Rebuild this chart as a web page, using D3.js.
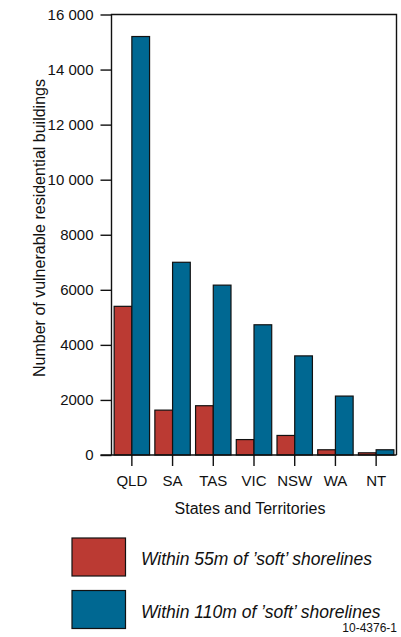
<!DOCTYPE html>
<html><head><meta charset="utf-8">
<script src="https://cdn.jsdelivr.net/npm/d3@7"></script>
<style>body{margin:0;background:#fff}svg{display:block;font-family:"Liberation Sans",Arial,sans-serif}</style>
</head><body>
<script>
const categories = ["QLD","SA","TAS","VIC","NSW","WA","NT"];
const within55 = [5400,1630,1790,560,710,190,80];
const within110 = [15200,7000,6170,4730,3600,2140,190];
const yTicks = [0,2000,4000,6000,8000,10000,12000,14000,16000];
const seriesNames = ["Within 55m of \u2019soft\u2019 shorelines","Within 110m of \u2019soft\u2019 shorelines"];
const seriesColors = ["#bb3a33","#006892"];

const W=401,H=637;
const svg=d3.select("body").append("svg").attr("width",W).attr("height",H);
const L=111.5,R=396.5,T=14.5,B=455;
const x=d3.scaleBand().domain(categories).range([L,R]).paddingInner(0.13).paddingOuter(0.065);
const y=d3.scaleLinear().domain([0,16000]).range([B,T]);

// bars
const bw=x.bandwidth()/2;
const series=[within55,within110];
series.forEach((vals,si)=>{
  svg.append("g").selectAll("rect").data(categories).join("rect")
    .attr("x",d=>x(d)+si*bw).attr("y",(d,i)=>y(vals[i]))
    .attr("width",bw).attr("height",(d,i)=>B-y(vals[i]))
    .attr("fill",seriesColors[si]).attr("stroke","#111").attr("stroke-width",1.2);
});

// frame
svg.append("path").attr("d",`M${L},${B}V${T}H${R}V${B}`).attr("fill","none").attr("stroke","#111").attr("stroke-width",1.4);

// y axis
const ya=svg.append("g").attr("transform",`translate(${L},0)`)
  .call(d3.axisLeft(y).tickValues(yTicks).tickSize(11).tickPadding(7).tickFormat(v=> v>=10000? (Math.floor(v/1000)+" 000"):String(v)));
ya.select(".domain").remove();
ya.selectAll("line").attr("stroke","#111").attr("stroke-width",1.4);
ya.selectAll("text").attr("font-size",15).attr("fill","#111").attr("font-family","Liberation Sans, Arial, sans-serif");

// x axis
const xa=svg.append("g").attr("transform",`translate(0,${B})`)
  .call(d3.axisBottom(x).tickSize(11).tickPadding(9).tickSizeOuter(0));
xa.select(".domain").remove();
xa.selectAll("line").attr("stroke","#111").attr("stroke-width",1.4);
xa.selectAll("text").attr("font-size",15).attr("fill","#111").attr("font-family","Liberation Sans, Arial, sans-serif");
svg.append("line").attr("x1",L-11).attr("x2",R).attr("y1",B).attr("y2",B).attr("stroke","#111").attr("stroke-width",1.4);

// axis titles
svg.append("text").attr("x",250).attr("y",514).attr("text-anchor","middle").attr("font-size",16).attr("fill","#111").text("States and Territories");
svg.append("text").attr("transform","translate(45,228) rotate(-90)").attr("text-anchor","middle").attr("font-size",16).attr("fill","#111").text("Number of vulnerable residential buildings");

// legend
const lg=svg.append("g");
seriesNames.forEach((n,i)=>{
  const yy=538+i*52.5;
  lg.append("rect").attr("x",72).attr("y",yy).attr("width",53.5).attr("height",38).attr("fill",seriesColors[i]).attr("stroke","#111").attr("stroke-width",1.2);
  lg.append("text").attr("x",141).attr("y",yy+27).attr("font-size",17.5).attr("font-style","italic").attr("fill","#111").text(n);
});
svg.append("text").attr("x",397).attr("y",632).attr("text-anchor","end").attr("font-size",12).attr("fill","#111").text("10-4376-1");
</script>
</body></html>
